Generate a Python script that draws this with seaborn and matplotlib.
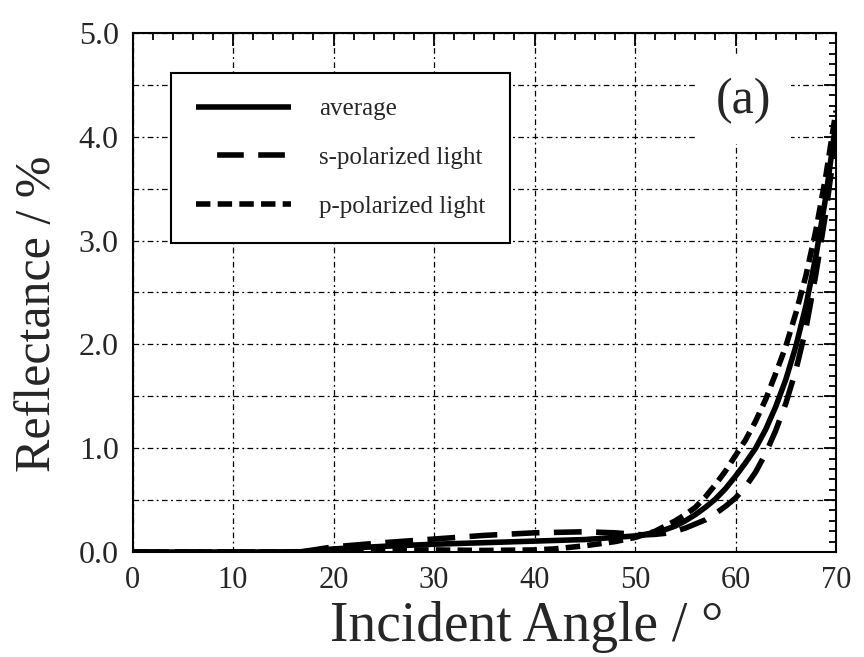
import numpy as np
import pandas as pd
import matplotlib
matplotlib.use("Agg")
import matplotlib.pyplot as plt
import seaborn as sns
from matplotlib.lines import Line2D
from matplotlib.ticker import MultipleLocator, FixedLocator, FixedFormatter

sns.set_theme(style="white")
plt.rcParams['font.family'] = ['Liberation Serif', 'DejaVu Serif']

# ---- data ----
angle_avg = [0, 5, 10, 15, 17, 20, 25, 30, 35, 40, 45, 50, 51, 52, 53, 54, 55, 56, 57, 58, 59, 60,
             61, 62, 63, 64, 65, 66, 67, 68, 69, 70]
refl_avg = [0, 0, 0, 0, 0.003, 0.03, 0.055, 0.075, 0.09, 0.105, 0.12, 0.155, 0.17, 0.19, 0.215, 0.25,
            0.3, 0.36, 0.43, 0.51, 0.61, 0.73, 0.86, 1.0, 1.18, 1.4, 1.66, 1.98, 2.37, 2.85, 3.43, 4.15]

angle_s = [0, 5, 10, 15, 17, 20, 25, 30, 35, 40, 45, 48, 50, 51, 52, 53, 54, 55, 56, 57, 58, 59, 60,
           61, 62, 63, 64, 65, 66, 67, 68, 69, 70]
refl_s = [0, 0, 0, 0, 0.005, 0.05, 0.09, 0.125, 0.16, 0.185, 0.195, 0.185, 0.17, 0.165, 0.17, 0.18,
          0.2, 0.23, 0.27, 0.31, 0.37, 0.44, 0.52, 0.63, 0.77, 0.95, 1.17, 1.43, 1.75, 2.15, 2.68, 3.28, 4.0]

angle_p = [0, 5, 10, 15, 20, 25, 30, 35, 40, 42, 45, 48, 49, 50, 51, 52, 53, 54, 55, 56, 57, 58, 59,
           60, 61, 62, 63, 64, 65, 66, 67, 68, 69, 70]
refl_p = [0, 0, 0, 0, 0.01, 0.02, 0.02, 0.015, 0.02, 0.03, 0.06, 0.1, 0.12, 0.14, 0.17, 0.2, 0.25,
          0.3, 0.36, 0.43, 0.53, 0.65, 0.78, 0.93, 1.08, 1.26, 1.47, 1.72, 1.98, 2.3, 2.66, 3.1, 3.63, 4.25]

series_labels = ["average", "s-polarized light", "p-polarized light"]
xticks = [0, 10, 20, 30, 40, 50, 60, 70]
yticks = [0.0, 0.5, 1.0, 1.5, 2.0, 2.5, 3.0, 3.5, 4.0, 4.5, 5.0]
ytick_labels = ["0.0", "", "1.0", "", "2.0", "", "3.0", "", "4.0", "", "5.0"]
panel_label = "(a)"
xlabel = "Incident Angle / °"
ylabel = "Reflectance / %"

df_avg = pd.DataFrame({"angle": angle_avg, "refl": refl_avg})
df_s = pd.DataFrame({"angle": angle_s, "refl": refl_s})
df_p = pd.DataFrame({"angle": angle_p, "refl": refl_p})

fig = plt.figure(figsize=(8.64, 6.57), dpi=100)
ax = fig.add_axes([0.1534, 0.1598, 0.8142, 0.7900])
ax.set_facecolor("white")

LW = 4.0
sns.lineplot(data=df_avg, x="angle", y="refl", ax=ax, color="black", lw=LW,
             solid_capstyle="butt", solid_joinstyle="round", zorder=5)
sns.lineplot(data=df_s, x="angle", y="refl", ax=ax, color="black", lw=LW,
             linestyle=(0, (5.0, 2.6)), dash_capstyle="butt", zorder=5)
sns.lineplot(data=df_p, x="angle", y="refl", ax=ax, color="black", lw=LW,
             linestyle=(0, (2.6, 1.3)), dash_capstyle="butt", zorder=5)

ax.set_xlim(0, 70)
ax.set_ylim(0, 5)
ax.xaxis.set_major_locator(FixedLocator(xticks))
ax.xaxis.set_minor_locator(MultipleLocator(2))
ax.yaxis.set_major_locator(FixedLocator(yticks))
ax.yaxis.set_major_formatter(FixedFormatter(ytick_labels))
ax.yaxis.set_minor_locator(MultipleLocator(0.1))

# grid
gls = (0, (4.5, 2.7, 1.5, 2.7))
ax.grid(True, which="major", color="black", lw=0.9, linestyle=gls)
ax.set_axisbelow(True)

ax.tick_params(which="both", direction="in", top=True, right=True, color="black", width=1.3)
ax.tick_params(which="major", length=9)
ax.tick_params(which="minor", length=5)
ax.tick_params(axis="y", labelsize=23, pad=10)
ax.tick_params(axis="x", labelsize=22, pad=10)
for sp in ax.spines.values():
    sp.set_visible(True)
    sp.set_color("black")
    sp.set_linewidth(1.5)

ax.set_xlabel(xlabel, fontsize=40)
ax.set_ylabel(ylabel, fontsize=36)
ax.xaxis.set_label_coords(0.561, -0.095)
ax.yaxis.set_label_coords(-0.101, 0.46)

ax.text(60.8, 4.35, panel_label, fontsize=36, ha="center", va="center", zorder=4,
        bbox=dict(boxstyle="square,pad=0.4", fc="white", ec="none"))

handles = [
    Line2D([], [], color="black", lw=LW, solid_capstyle="butt"),
    Line2D([], [], color="black", lw=LW, linestyle=(12.2, (4.8, 2.6, 4.8, 3.8)), dash_capstyle="butt"),
    Line2D([], [], color="black", lw=LW, linestyle=(0, (2.6, 1.3)), dash_capstyle="butt"),
]
leg = ax.legend(handles, series_labels, loc="upper left", bbox_to_anchor=(0.055, 0.923),
                fontsize=18, frameon=True, fancybox=False, framealpha=1, edgecolor="black",
                handlelength=3.8, handletextpad=1.1, borderpad=1.0, labelspacing=1.05,
                borderaxespad=0)
leg.get_frame().set_linewidth(1.5)
leg.set_zorder(6)

fig.savefig("out.png", dpi=100)
